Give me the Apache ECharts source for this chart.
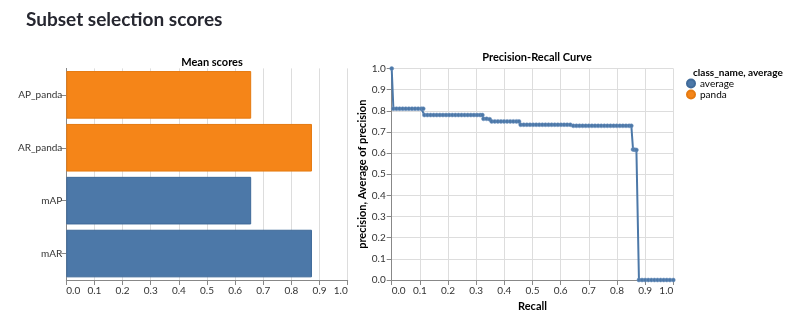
<!DOCTYPE html>
<html><head><meta charset="utf-8">
<script src="https://cdn.jsdelivr.net/npm/echarts@6/dist/echarts.min.js"></script>
<style>html,body{margin:0;padding:0;background:#fff}#c{width:800px;height:330px}</style>
</head><body><div id="c"></div>
<script>
// ---- data ----
const barCategories = ['AP_panda', 'AR_panda', 'mAP', 'mAR'];
const barValues = [0.657, 0.873, 0.657, 0.873];
const barClasses = ['panda', 'panda', 'average', 'average'];
const classNames = ['average', 'panda'];
const classColors = ['#4c78a8', '#f58518'];
const tickLabels = ['0.0','0.1','0.2','0.3','0.4','0.5','0.6','0.7','0.8','0.9','1.0'];

const recall = [
  0.000,
  0.006, 0.017, 0.028, 0.039, 0.050, 0.061, 0.072, 0.083, 0.094, 0.105, 0.112,
  0.116, 0.127, 0.138, 0.149, 0.160, 0.171, 0.182, 0.193, 0.204, 0.215, 0.226, 0.237, 0.248, 0.259, 0.270, 0.281, 0.292, 0.303, 0.314, 0.322,
  0.326, 0.337, 0.348,
  0.355, 0.366, 0.377, 0.388, 0.399, 0.410, 0.421, 0.432, 0.443, 0.452,
  0.458, 0.469, 0.480, 0.491, 0.502, 0.513, 0.524, 0.535, 0.546, 0.557, 0.568, 0.579, 0.590, 0.601, 0.612, 0.623, 0.634,
  0.645, 0.656, 0.667, 0.678, 0.689, 0.700, 0.711, 0.722, 0.733, 0.744, 0.755, 0.766, 0.777, 0.788, 0.799, 0.810, 0.821, 0.832, 0.843, 0.851,
  0.857, 0.863, 0.869,
  0.878, 0.889, 0.900, 0.911, 0.922, 0.933, 0.944, 0.955, 0.966, 0.977, 0.988, 1.000
];
const precision = [
  1.000,
  0.810, 0.810, 0.810, 0.810, 0.810, 0.810, 0.810, 0.810, 0.810, 0.810, 0.810,
  0.780, 0.780, 0.780, 0.780, 0.780, 0.780, 0.780, 0.780, 0.780, 0.780, 0.780, 0.780, 0.780, 0.780, 0.780, 0.780, 0.780, 0.780, 0.780, 0.780,
  0.762, 0.762, 0.760,
  0.750, 0.750, 0.750, 0.750, 0.750, 0.750, 0.750, 0.750, 0.750, 0.750,
  0.734, 0.734, 0.734, 0.734, 0.734, 0.734, 0.734, 0.734, 0.734, 0.734, 0.734, 0.734, 0.734, 0.734, 0.734, 0.734, 0.734,
  0.729, 0.729, 0.729, 0.729, 0.729, 0.729, 0.729, 0.729, 0.729, 0.729, 0.729, 0.729, 0.729, 0.729, 0.729, 0.729, 0.729, 0.729, 0.729, 0.729,
  0.617, 0.616, 0.615,
  0.000, 0.000, 0.000, 0.000, 0.000, 0.000, 0.000, 0.000, 0.000, 0.000, 0.000, 0.000
];

// ---- chart ----
const FONT = 'Lato';
const labelColor = '#333';
const axisGray = '#888';
const gridGray = '#ddd';

function fmt(v){ return tickLabels[Math.round(v*10)] || v; }

const barSeries = classNames.map((cn, ci) => ({
  name: cn,
  type: 'bar',
  xAxisIndex: 0, yAxisIndex: 0,
  stack: 'bars',
  barCategoryGap: '10%',
  itemStyle: { color: classColors[ci], borderColor: ci === 0 ? '#3f6a99' : '#e57a10', borderWidth: 1 },
  data: barValues.map((v, i) => barClasses[i] === cn ? v : '-')
}));

const valueAxisCommon = {
  type: 'value', min: 0, max: 1, interval: 0.1,
  axisLine: { show: true, lineStyle: { color: axisGray } },
  axisTick: { show: true, length: 5, lineStyle: { color: axisGray } },
  splitLine: { show: true, lineStyle: { color: gridGray } },
  axisLabel: { formatter: fmt, color: labelColor, fontFamily: FONT, fontSize: 10, margin: 6 }
};

const option = {
  animation: false,
  textStyle: { fontFamily: FONT },
  title: [
    { text: 'Subset selection scores', left: 21, top: 5,
      textStyle: { fontFamily: FONT, fontSize: 19, fontWeight: 'bold', color: '#262730' } },
    { text: 'Mean scores', left: 207, top: 52, textAlign: 'center',
      textStyle: { fontFamily: FONT, fontSize: 11, fontWeight: 'bold', color: '#000' } },
    { text: 'Precision-Recall Curve', left: 532, top: 47, textAlign: 'center',
      textStyle: { fontFamily: FONT, fontSize: 11, fontWeight: 'bold', color: '#000' } },
    { text: 'class_name, average', left: 688, top: 63,
      textStyle: { fontFamily: FONT, fontSize: 10, fontWeight: 'bold', color: '#000' } }
  ],
  legend: {
    data: classNames, orient: 'vertical', left: 686, top: 78,
    icon: 'circle', itemWidth: 8, itemHeight: 8, itemGap: 0, padding: 0,
    textStyle: { fontFamily: FONT, fontSize: 10, color: '#000', lineHeight: 11 }
  },
  grid: [
    { left: 66.3, right: 452.3, top: 68.4, bottom: 50 },
    { left: 391.7, right: 126.7, top: 68.5, bottom: 50 }
  ],
  xAxis: [
    Object.assign({}, valueAxisCommon, { gridIndex: 0,
      axisLabel: Object.assign({}, valueAxisCommon.axisLabel, { alignMinLabel: 'left', alignMaxLabel: 'right' }) }),
    Object.assign({}, valueAxisCommon, { gridIndex: 1,
      axisLabel: Object.assign({}, valueAxisCommon.axisLabel, { alignMinLabel: 'left', alignMaxLabel: 'right' }),
      name: 'Recall', nameLocation: 'middle', nameGap: 15,
      nameTextStyle: { fontFamily: FONT, fontSize: 11, fontWeight: 'bold', color: '#000' } })
  ],
  yAxis: [
    { type: 'category', gridIndex: 0, data: barCategories, inverse: true,
      axisLine: { show: true, lineStyle: { color: axisGray } },
      axisTick: { show: true, alignWithLabel: true, length: 5, lineStyle: { color: axisGray } },
      splitLine: { show: false },
      axisLabel: { color: labelColor, fontFamily: FONT, fontSize: 10, margin: 4 } },
    Object.assign({}, valueAxisCommon, { gridIndex: 1,
      name: 'precision, Average of precision', nameLocation: 'middle', nameGap: 16, nameRotate: 90,
      nameTextStyle: { fontFamily: FONT, fontSize: 11, fontWeight: 'bold', color: '#000' } })
  ],
  series: barSeries.concat([{
    name: 'average', type: 'line', xAxisIndex: 1, yAxisIndex: 1,
    data: recall.map((r, i) => [r, precision[i]]),
    symbol: 'circle', symbolSize: 4, showSymbol: true,
    lineStyle: { color: '#4c78a8', width: 2 },
    itemStyle: { color: '#4c78a8', borderColor: '#6f93bf', borderWidth: 0.5 },
    z: 3
  }])
};

const chart = echarts.init(document.getElementById('c'), null, { renderer: 'canvas' });
chart.setOption(option);
</script>
</body></html>
